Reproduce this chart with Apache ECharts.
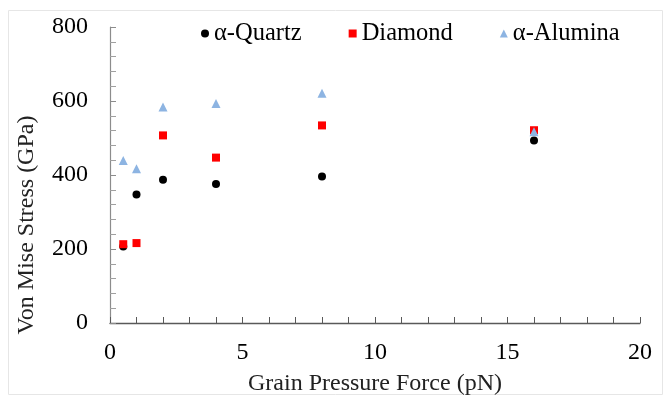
<!DOCTYPE html>
<html>
<head>
<meta charset="utf-8">
<script src="https://cdn.jsdelivr.net/npm/echarts@6/dist/echarts.min.js"></script>
<style>
  html, body { margin: 0; padding: 0; background: #fff; }
  #chart { width: 666px; height: 401px; }
</style>
</head>
<body>
<div id="chart"></div>
<script>
// grain pressure force (pN)
const force = [0.5, 1, 2, 4, 8, 16]
// von mises stress (GPa)
const quartz = [207, 347, 387, 376, 396, 493]
const diamond = [213, 216, 507, 447, 534, 521]
const alumina = [439, 417, 584, 593, 621, 517]

const serif = 'Liberation Serif'

function pairs(ys) {
  return force.map((x, i) => [x, ys[i]])
}

const chart = echarts.init(document.getElementById('chart'))

const baseX = {
  type: 'value',
  min: 0,
  max: 20,
  interval: 5,
  splitLine: { show: false }
}
const baseY = {
  type: 'value',
  min: 0,
  max: 800,
  interval: 200,
  splitLine: { show: false }
}

chart.setOption({
  animation: false,
  backgroundColor: '#fff',
  graphic: [{
    type: 'rect',
    shape: { x: 8.5, y: 10.5, width: 654, height: 384 },
    style: { fill: 'none', stroke: '#e6e6e6', lineWidth: 1 },
    silent: true,
    z: -10
  }],
  grid: { left: 110, right: 26, top: 27, bottom: 78, outerBoundsMode: 'none' },
  legend: {
    left: 196,
    top: 16,
    itemWidth: 8,
    itemHeight: 8,
    itemGap: 47,
    textStyle: { fontFamily: serif, fontSize: 24.5, color: '#000' },
    data: ['α-Quartz', 'Diamond', 'α-Alumina']
  },
  xAxis: [
    Object.assign({}, baseX, {
      name: 'Grain Pressure Force (pN)',
      nameLocation: 'middle',
      nameGap: 49,
      nameTextStyle: { fontFamily: serif, fontSize: 24, color: '#222' },
      axisLine: { lineStyle: { color: '#595959', width: 1.3 } },
      axisTick: { inside: true, length: 6, lineStyle: { color: '#595959' } },
      minorTick: { show: true, splitNumber: 5, length: 6, lineStyle: { color: '#595959' } },
      axisLabel: { fontFamily: serif, fontSize: 24, color: '#000', margin: 18 }
    }),
    Object.assign({}, baseX, {
      axisLine: { show: false },
      axisTick: { length: 6, lineStyle: { color: '#595959' } },
      axisLabel: { show: false }
    })
  ],
  yAxis: [
    Object.assign({}, baseY, {
      name: 'Von Mise Stress (GPa)',
      nameLocation: 'middle',
      nameGap: 71,
      nameTextStyle: { fontFamily: serif, fontSize: 24, color: '#222', padding: [0, 100, 0, 0] },
      axisLine: { lineStyle: { color: '#8c8c8c', width: 1.2 } },
      axisTick: { inside: true, length: 6, lineStyle: { color: '#8c8c8c' } },
      minorTick: { show: true, splitNumber: 5, length: 6, lineStyle: { color: '#a0a0a0' } },
      axisLabel: { fontFamily: serif, fontSize: 24, color: '#000', margin: 22 }
    }),
    Object.assign({}, baseY, {
      axisLine: { show: false },
      axisTick: { length: 6, lineStyle: { color: '#8c8c8c' } },
      axisLabel: { show: false }
    })
  ],
  series: [
    {
      name: 'α-Quartz',
      type: 'scatter',
      symbol: 'circle',
      symbolSize: 8,
      itemStyle: { color: '#000', opacity: 1 },
      data: pairs(quartz),
      z: 3
    },
    {
      name: 'Diamond',
      type: 'scatter',
      symbol: 'rect',
      symbolSize: 8,
      itemStyle: { color: '#ff0000', opacity: 1 },
      data: pairs(diamond),
      z: 4
    },
    {
      name: 'α-Alumina',
      type: 'scatter',
      symbol: 'triangle',
      symbolSize: 9,
      itemStyle: { color: '#8db4e2', opacity: 1 },
      data: pairs(alumina),
      z: 5
    }
  ]
})
</script>
</body>
</html>
